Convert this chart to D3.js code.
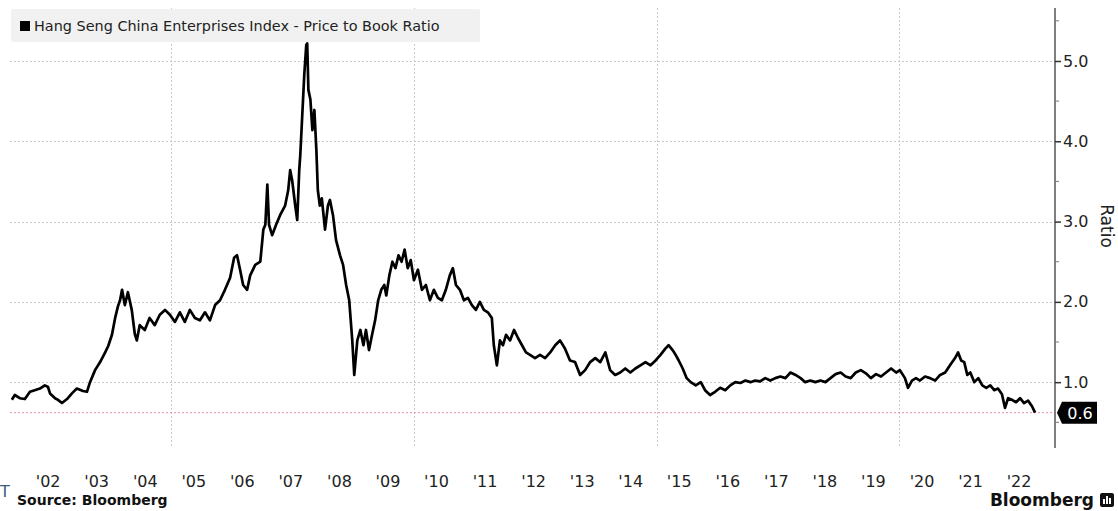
<!DOCTYPE html>
<html>
<head>
<meta charset="utf-8">
<script src="https://cdn.jsdelivr.net/npm/d3@7/dist/d3.min.js"></script>
<style>
  html, body { margin: 0; padding: 0; background: #fff; }
  svg { display: block; }
  text { font-family: "DejaVu Sans", Verdana, sans-serif; }
</style>
</head>
<body>
<svg id="chart" width="1118" height="511"></svg>
<script>
// Hang Seng China Enterprises Index - price to book ratio
const seriesName = "Hang Seng China Enterprises Index - Price to Book Ratio";

const dates = [
  "2001-09-21","2001-10-13","2001-11-20","2001-12-28","2002-02-04","2002-03-12","2002-04-20","2002-05-27",
  "2002-06-20","2002-07-05","2002-08-12","2002-09-03","2002-10-03","2002-11-10","2002-12-17","2003-01-23",
  "2003-03-10","2003-04-09","2003-05-02","2003-06-09","2003-07-17","2003-08-24","2003-09-16","2003-10-14",
  "2003-11-07","2003-11-29","2003-12-14","2003-12-29","2004-01-19","2004-02-11","2004-03-11","2004-04-03",
  "2004-04-18","2004-05-10","2004-06-17","2004-07-23","2004-08-31","2004-10-08","2004-11-16","2004-12-23",
  "2005-01-30","2005-03-08","2005-04-14","2005-05-22","2005-06-29","2005-08-06","2005-09-13","2005-10-20",
  "2005-11-28","2006-01-04","2006-02-10","2006-03-21","2006-04-20","2006-05-12","2006-06-04","2006-06-27",
  "2006-07-27","2006-08-19","2006-09-26","2006-11-03","2006-11-26","2006-12-11","2006-12-26","2007-01-08",
  "2007-01-31","2007-03-02","2007-04-01","2007-05-09","2007-06-01","2007-06-16","2007-07-01","2007-07-24",
  "2007-08-08","2007-08-23","2007-08-31","2007-09-15","2007-09-30","2007-10-15","2007-10-22","2007-10-31",
  "2007-11-15","2007-11-30","2007-12-15","2007-12-30","2008-01-10","2008-01-25","2008-02-09","2008-03-04",
  "2008-03-26","2008-04-10","2008-05-03","2008-05-26","2008-06-25","2008-07-18","2008-08-10","2008-09-02",
  "2008-09-25","2008-10-10","2008-11-02","2008-11-25","2008-12-18","2009-01-06","2009-01-29","2009-02-21",
  "2009-03-16","2009-04-08","2009-05-01","2009-05-24","2009-06-08","2009-07-01","2009-07-24","2009-08-16",
  "2009-09-08","2009-10-01","2009-10-24","2009-11-16","2009-12-09","2010-01-02","2010-02-01","2010-03-03",
  "2010-04-02","2010-05-02","2010-06-01","2010-07-01","2010-07-31","2010-08-30","2010-09-29","2010-10-22",
  "2010-11-14","2010-12-14","2011-01-13","2011-02-12","2011-03-14","2011-04-13","2011-05-13","2011-06-12",
  "2011-07-12","2011-08-11","2011-08-26","2011-09-18","2011-10-11","2011-11-03","2011-11-26","2011-12-26",
  "2012-01-25","2012-02-24","2012-03-25","2012-04-24","2012-05-24","2012-07-01","2012-08-08","2012-09-15",
  "2012-10-23","2012-11-30","2013-01-05","2013-02-11","2013-03-21","2013-04-28","2013-06-05","2013-07-13",
  "2013-08-20","2013-09-27","2013-11-04","2013-12-12","2014-01-17","2014-02-24","2014-04-03","2014-05-11",
  "2014-06-18","2014-07-26","2014-09-02","2014-10-10","2014-11-17","2014-12-25","2015-01-31","2015-03-10",
  "2015-04-02","2015-05-02","2015-05-25","2015-06-17","2015-07-17","2015-08-16","2015-09-15","2015-10-23",
  "2015-11-30","2016-01-01","2016-02-08","2016-03-17","2016-04-24","2016-06-01","2016-07-09","2016-08-16",
  "2016-09-23","2016-10-31","2016-12-08","2017-01-12","2017-02-19","2017-03-29","2017-05-06","2017-06-13",
  "2017-07-21","2017-08-28","2017-10-05","2017-11-12","2017-12-20","2018-01-24","2018-03-03","2018-04-10",
  "2018-05-18","2018-06-25","2018-08-02","2018-09-09","2018-10-17","2018-11-24","2019-01-01","2019-02-08",
  "2019-03-18","2019-04-25","2019-06-02","2019-07-10","2019-08-17","2019-09-24","2019-11-01","2019-12-09",
  "2020-01-06","2020-02-13","2020-03-07","2020-04-06","2020-05-06","2020-06-05","2020-07-13","2020-08-20",
  "2020-09-27","2020-11-04","2020-12-12","2021-01-17","2021-02-24","2021-03-19","2021-04-11","2021-05-04",
  "2021-05-27","2021-06-19","2021-07-19","2021-08-18","2021-09-17","2021-10-17","2021-11-16","2021-12-16",
  "2022-01-13","2022-02-12","2022-03-07","2022-03-30","2022-04-29","2022-05-29","2022-06-28","2022-07-28",
  "2022-08-27","2022-09-26","2022-10-19"
];

const ratio = [
  0.78,0.84,0.80,0.79,0.88,0.90,0.92,0.96,
  0.94,0.86,0.80,0.78,0.74,0.79,0.86,0.92,
  0.89,0.88,1.00,1.15,1.25,1.37,1.45,1.59,
  1.80,1.95,2.02,2.15,1.96,2.12,1.90,1.60,
  1.52,1.71,1.65,1.80,1.71,1.84,1.90,1.84,
  1.75,1.87,1.75,1.90,1.80,1.77,1.87,1.77,
  1.96,2.02,2.15,2.30,2.55,2.58,2.40,2.21,
  2.15,2.33,2.46,2.50,2.90,2.96,3.46,2.96,
  2.83,2.96,3.08,3.20,3.39,3.64,3.51,3.20,
  3.02,3.64,3.83,4.33,4.83,5.20,5.22,4.64,
  4.52,4.14,4.39,3.89,3.39,3.20,3.29,2.90,
  3.20,3.27,3.08,2.77,2.58,2.46,2.21,2.02,
  1.52,1.09,1.52,1.65,1.46,1.65,1.40,1.59,
  1.77,2.02,2.15,2.21,2.08,2.33,2.50,2.42,
  2.58,2.50,2.65,2.42,2.52,2.27,2.40,2.15,
  2.21,2.02,2.15,2.05,2.02,2.15,2.33,2.42,
  2.21,2.15,2.02,2.05,1.96,1.90,2.00,1.90,
  1.87,1.80,1.46,1.21,1.52,1.46,1.59,1.52,
  1.65,1.55,1.46,1.37,1.34,1.30,1.34,1.30,
  1.37,1.46,1.52,1.42,1.27,1.25,1.09,1.15,
  1.25,1.30,1.25,1.37,1.15,1.09,1.12,1.17,
  1.12,1.17,1.21,1.25,1.21,1.27,1.34,1.42,
  1.46,1.40,1.34,1.27,1.17,1.05,1.00,0.96,
  1.00,0.90,0.84,0.88,0.93,0.90,0.96,1.00,
  0.99,1.02,1.00,1.02,1.01,1.05,1.02,1.05,
  1.07,1.05,1.12,1.09,1.05,1.00,1.02,1.00,
  1.02,1.00,1.05,1.10,1.12,1.07,1.05,1.12,
  1.15,1.11,1.05,1.10,1.07,1.12,1.17,1.12,
  1.15,1.05,0.93,1.02,1.05,1.02,1.07,1.05,
  1.02,1.09,1.12,1.21,1.30,1.37,1.27,1.25,
  1.09,1.12,1.00,1.05,0.96,0.93,0.96,0.90,
  0.92,0.85,0.68,0.80,0.78,0.75,0.80,0.74,
  0.77,0.70,0.62
];

const lastLabel = "0.6";
const yearLabels = ["'02","'03","'04","'05","'06","'07","'08","'09","'10","'11","'12",
                    "'13","'14","'15","'16","'17","'18","'19","'20","'21","'22"];
const labelYears = d3.range(2002, 2023);
const gridYears = [2005, 2010, 2015, 2020];
const yMajor = [1, 2, 3, 4, 5];
const yMinor = [0.5, 1.5, 2.5, 3.5, 4.5, 5.5];
const yTitle = "Ratio";

(function draw() {
  const parse = d3.timeParse("%Y-%m-%d");
  const points = dates.map((d, i) => ({ date: parse(d), value: ratio[i] }));

  const svg = d3.select("#chart");
  const plotLeft = 10, plotRight = 1055, plotTop = 8, plotBottom = 448;

  const x = d3.scaleTime()
    .domain([new Date(2001, 8, 7), new Date(2023, 2, 18)])
    .range([plotLeft, plotRight]);
  const y = d3.scaleLinear().domain([0.18, 5.66]).range([plotBottom, plotTop]);

  // dashed grid
  const grid = svg.append("g").attr("stroke", "#c9c9c9").attr("stroke-width", 1)
    .attr("stroke-dasharray", "2,2").attr("fill", "none");
  grid.selectAll("line.h").data(yMajor).join("line").attr("class", "h")
    .attr("x1", plotLeft).attr("x2", plotRight)
    .attr("y1", d => Math.round(y(d)) + 0.5).attr("y2", d => Math.round(y(d)) + 0.5);
  grid.selectAll("line.v").data(gridYears).join("line").attr("class", "v")
    .attr("x1", d => Math.round(x(new Date(d, 0, 1))) + 0.5)
    .attr("x2", d => Math.round(x(new Date(d, 0, 1))) + 0.5)
    .attr("y1", plotTop).attr("y2", plotBottom);

  // legend box
  const legend = svg.append("g");
  legend.append("rect").attr("x", 11).attr("y", 9).attr("width", 469).attr("height", 33)
    .attr("rx", 2).attr("fill", "#f1f1f1");
  legend.append("rect").attr("x", 20).attr("y", 21).attr("width", 10).attr("height", 10).attr("fill", "#000");
  const legText = legend.append("text").attr("x", 34).attr("y", 31)
    .attr("font-size", 13).attr("fill", "#222").text(seriesName);
  const lw = legText.node().getComputedTextLength();
  if (lw > 0) legText.attr("font-size", 13 * 406 / lw);

  // last-value reference line
  const last = points[points.length - 1];
  svg.append("line")
    .attr("x1", plotLeft).attr("x2", plotRight)
    .attr("y1", y(last.value)).attr("y2", y(last.value))
    .attr("stroke", "#e68bb0").attr("stroke-width", 1).attr("stroke-dasharray", "2,2");

  // series line
  const line = d3.line().x(d => x(d.date)).y(d => y(d.value)).curve(d3.curveLinear);
  svg.append("path").datum(points)
    .attr("d", line)
    .attr("fill", "none").attr("stroke", "#000").attr("stroke-width", 2.7)
    .attr("stroke-linejoin", "round");

  // right axis
  const axisG = svg.append("g").attr("transform", `translate(${plotRight},0)`);
  axisG.append("line").attr("x1", 0).attr("x2", 0).attr("y1", plotTop).attr("y2", plotBottom)
    .attr("stroke", "#555").attr("stroke-width", 1.5);
  const yAxis = d3.axisRight(y).tickValues(yMajor).tickFormat(d3.format(".1f")).tickSize(6).tickPadding(2);
  const ya = axisG.append("g").call(yAxis);
  ya.select(".domain").remove();
  ya.selectAll(".tick line").attr("stroke", "#333").attr("stroke-width", 1.5);
  ya.selectAll(".tick text").attr("font-size", 16).attr("fill", "#222")
    .attr("font-family", "DejaVu Sans, sans-serif");
  axisG.selectAll("line.minor").data(yMinor).join("line").attr("class", "minor")
    .attr("x1", 0).attr("x2", 4)
    .attr("y1", d => y(d)).attr("y2", d => y(d))
    .attr("stroke", "#777").attr("stroke-width", 1);

  // last value tag
  const ly = y(last.value);
  const tag = svg.append("g").attr("transform", `translate(${plotRight + 2},${ly})`);
  tag.append("path").attr("d", "M0,0 L5,-11 L40,-11 L40,11 L5,11 Z").attr("fill", "#000");
  tag.append("text").attr("x", 23).attr("y", 6).attr("text-anchor", "middle")
    .attr("font-size", 16).attr("fill", "#fff").text(lastLabel);

  // axis title
  svg.append("text").attr("transform", "translate(1101,226) rotate(90)")
    .attr("text-anchor", "middle").attr("font-size", 17).attr("fill", "#222").text(yTitle);

  // year labels centered in each year
  const xAxis = d3.axisBottom(x)
    .tickValues(labelYears.map(yr => new Date(yr, 6, 2)))
    .tickFormat((d, i) => yearLabels[i]).tickSize(0).tickPadding(0);
  const xa = svg.append("g").attr("transform", "translate(-2,473)").call(xAxis);
  xa.select(".domain").remove();
  xa.selectAll(".tick text").attr("font-size", 16).attr("fill", "#222")
    .attr("dy", "0.9em").attr("font-family", "DejaVu Sans, sans-serif");

  // footer
  svg.append("text").attr("x", 0).attr("y", 497).attr("font-size", 16).attr("fill", "#3d5a80").text("T");
  svg.append("text").attr("x", 17).attr("y", 505).attr("font-size", 14).attr("font-weight", "bold")
    .attr("fill", "#111").text("Source: Bloomberg");
  svg.append("text").attr("x", 1094).attr("y", 506).attr("text-anchor", "end").attr("font-size", 17)
    .attr("font-weight", "bold").attr("fill", "#111").text("Bloomberg");
  const logo = svg.append("g").attr("transform", "translate(1100,493)");
  logo.append("rect").attr("width", 14).attr("height", 14).attr("rx", 2).attr("fill", "#111");
  [[3, 6], [6, 3], [9, 5]].forEach(([bx, by]) => {
    logo.append("rect").attr("x", bx).attr("y", by).attr("width", 2).attr("height", 11 - by).attr("fill", "#fff");
  });
})();
</script>
</body>
</html>
